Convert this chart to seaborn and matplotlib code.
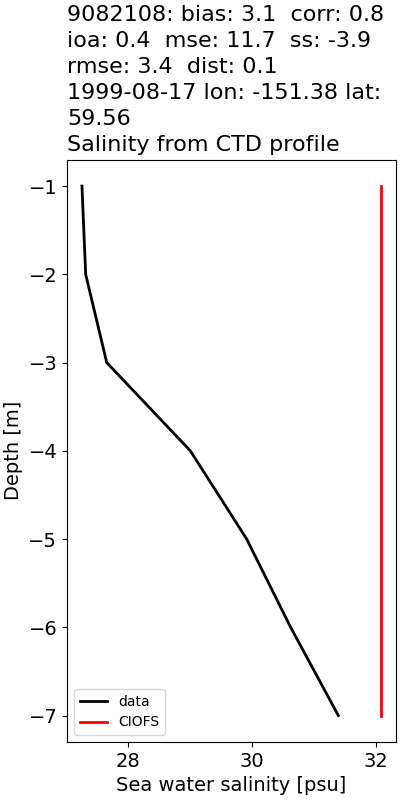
import matplotlib
matplotlib.use("Agg")
import matplotlib.pyplot as plt
import seaborn as sns
import pandas as pd

depth = [-1, -2, -3, -4, -5, -6, -7]
data_sal = [27.25, 27.31, 27.65, 29.0, 29.91, 30.62, 31.39]
model_sal = [32.08, 32.08, 32.08, 32.08, 32.08, 32.08, 32.08]
title = ("9082108: bias: 3.1  corr: 0.8\n"
         "ioa: 0.4  mse: 11.7  ss: -3.9\n"
         "rmse: 3.4  dist: 0.1\n"
         "1999-08-17 lon: -151.38 lat:\n"
         "59.56\n"
         "Salinity from CTD profile")

plt.rcParams.update(matplotlib.rcParamsDefault)
plt.rcParams['font.family'] = ['DejaVu Sans']

fig = plt.figure(figsize=(4, 8), dpi=100)
ax = fig.add_axes([0.1675, 0.0725, 0.8225, 0.728])

df_d = pd.DataFrame({"sal": data_sal, "depth": depth})
df_m = pd.DataFrame({"sal": model_sal, "depth": depth})
sns.lineplot(data=df_d, x="sal", y="depth", sort=False, estimator=None,
             color="black", lw=2, label="data", ax=ax)
sns.lineplot(data=df_m, x="sal", y="depth", sort=False, estimator=None,
             color="red", lw=2, label="CIOFS", ax=ax)

ax.set_xticks([28, 30, 32])
ax.tick_params(labelsize=14)
ax.set_xlabel("Sea water salinity [psu]", fontsize=14)
ax.set_ylabel("Depth [m]", fontsize=14)
ax.set_title(title, loc="left", fontsize=16, linespacing=1.38)
ax.legend(loc="lower left", fontsize=10)

fig.savefig("out.png", dpi=100)
